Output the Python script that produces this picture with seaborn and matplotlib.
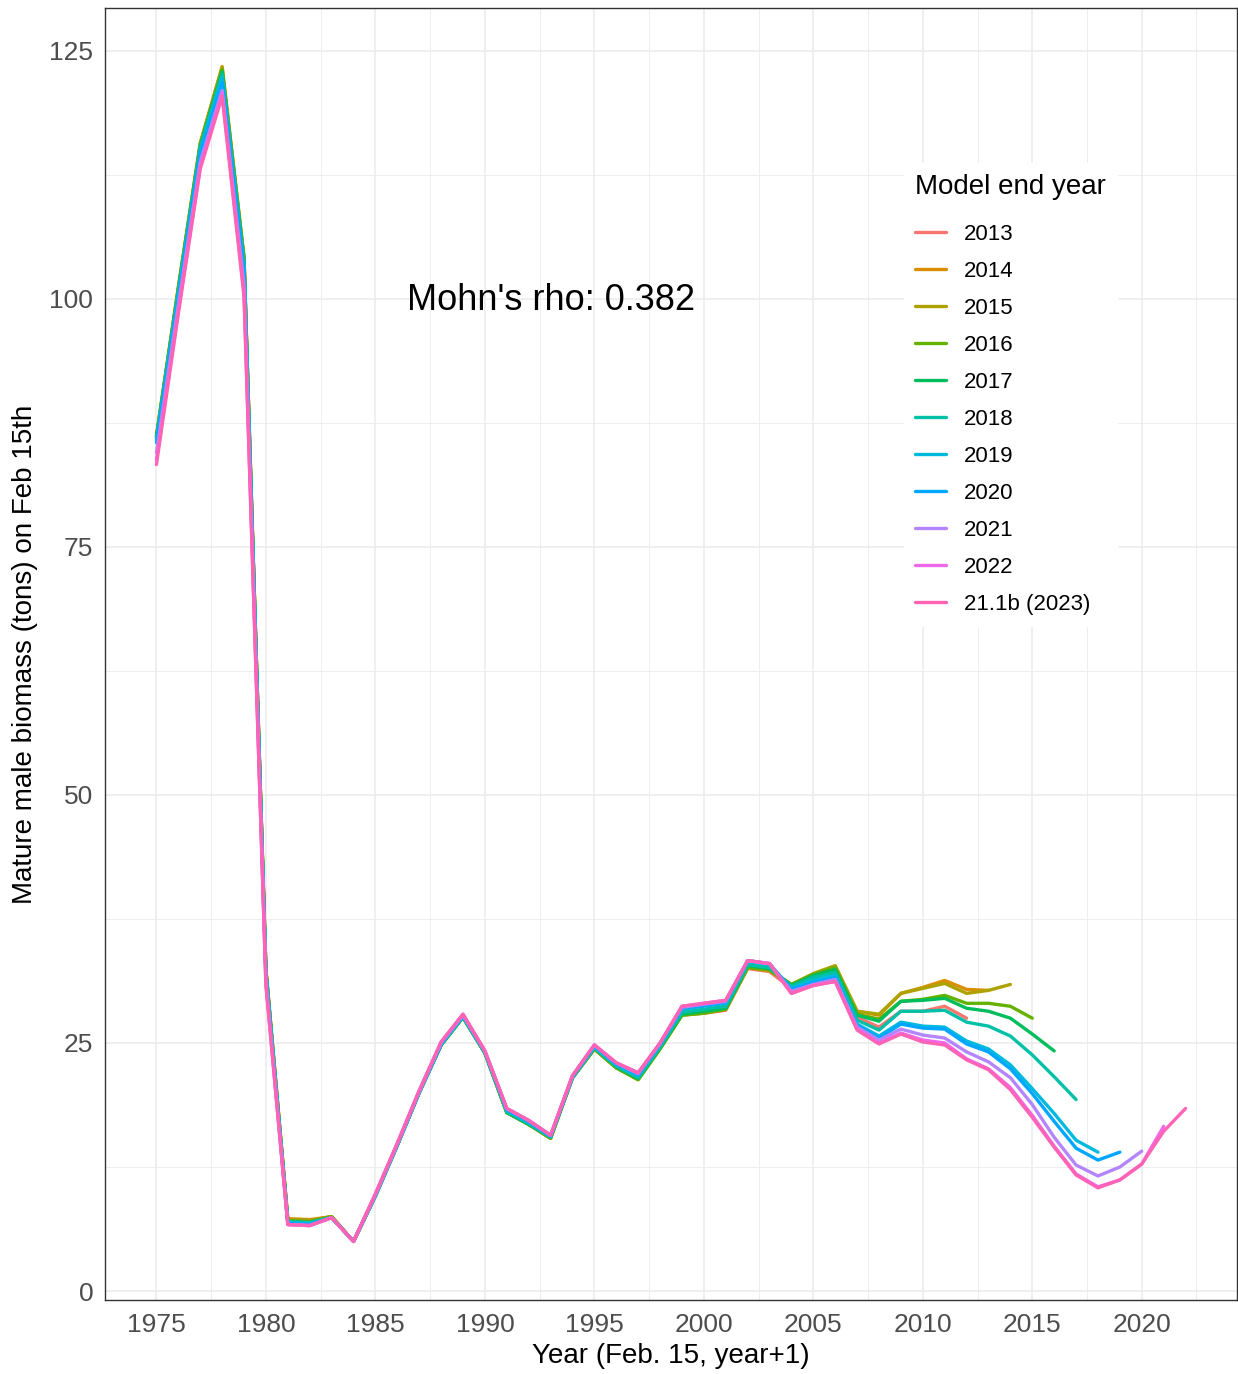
import numpy as np
import pandas as pd
import matplotlib
matplotlib.use("Agg")
import matplotlib.pyplot as plt
from matplotlib.ticker import MultipleLocator
import seaborn as sns

# ---------------- data ----------------
model_labels = ["2013", "2014", "2015", "2016", "2017", "2018",
                "2019", "2020", "2021", "2022", "21.1b (2023)"]
colors = ["#F8766D", "#DB8E00", "#AEA200", "#64B200", "#00BD5C", "#00C1A7",
          "#00BADE", "#00A6FF", "#B385FF", "#EF67EB", "#FF63B6"]
start_year = 1975

m2013 = [86.0, 101.0, 115.5, 123.0, 104.0, 32.3, 7.2, 7.1, 7.5, 5.0, 9.6, 14.7, 20.0, 24.8, 27.6, 24.0,
         18.0, 16.8, 15.4, 21.5, 24.4, 22.6, 21.5, 24.5, 27.9, 28.0, 28.3, 32.5, 32.2, 30.5, 31.6, 32.1,
         27.6, 26.6, 28.2, 28.2, 28.7, 27.5]
m2014 = [86.2, 101.2, 115.7, 123.4, 104.2, 32.4, 7.3, 7.2, 7.5, 5.0, 9.6, 14.7, 20.0, 24.8, 27.6, 24.0,
         18.0, 16.8, 15.4, 21.5, 24.4, 22.5, 21.4, 24.5, 27.9, 28.1, 28.4, 32.6, 32.3, 30.8, 31.9, 32.7,
         28.2, 27.8, 30.0, 30.6, 31.3, 30.4, 30.3]
m2015 = [86.2, 101.1, 115.6, 123.3, 104.1, 32.4, 7.2, 7.1, 7.5, 5.0, 9.6, 14.7, 20.0, 24.8, 27.6, 24.0,
         18.0, 16.8, 15.4, 21.5, 24.4, 22.5, 21.3, 24.4, 27.8, 28.0, 28.4, 32.6, 32.3, 30.9, 32.0, 32.8,
         28.2, 27.9, 30.0, 30.5, 31.0, 30.0, 30.3, 30.9]
m2016 = [86.1, 101.0, 115.5, 123.1, 104.0, 32.3, 7.1, 7.0, 7.5, 5.0, 9.6, 14.7, 20.0, 24.8, 27.6, 24.0,
         18.0, 16.8, 15.4, 21.5, 24.4, 22.5, 21.3, 24.4, 27.8, 28.0, 28.4, 32.6, 32.4, 30.9, 31.9, 32.6,
         27.9, 27.4, 29.2, 29.4, 29.8, 29.0, 29.0, 28.7, 27.5]
m2017 = [86.0, 100.9, 115.4, 122.9, 103.8, 32.2, 7.0, 6.9, 7.4, 5.0, 9.6, 14.7, 20.0, 24.8, 27.6, 24.0,
         18.0, 16.8, 15.5, 21.5, 24.5, 22.6, 21.4, 24.5, 27.9, 28.2, 28.5, 32.8, 32.5, 30.8, 31.8, 32.4,
         27.8, 27.2, 29.2, 29.3, 29.5, 28.5, 28.2, 27.5, 25.9, 24.2]
m2018 = [85.9, 100.7, 115.2, 122.6, 103.5, 32.1, 7.0, 6.9, 7.4, 5.0, 9.6, 14.7, 20.0, 24.8, 27.6, 24.0,
         18.1, 16.9, 15.5, 21.5, 24.5, 22.7, 21.5, 24.6, 28.1, 28.4, 28.7, 32.9, 32.6, 30.7, 31.6, 32.1,
         27.3, 26.3, 28.2, 28.2, 28.3, 27.1, 26.7, 25.7, 23.8, 21.6, 19.3]
m2019 = [85.7, 100.4, 114.9, 122.2, 103.1, 31.9, 6.9, 6.8, 7.4, 5.0, 9.6, 14.7, 20.0, 24.9, 27.7, 24.1,
         18.2, 17.0, 15.6, 21.6, 24.6, 22.8, 21.7, 24.8, 28.4, 28.7, 29.0, 33.2, 32.9, 30.5, 31.3, 31.8,
         26.9, 25.7, 27.1, 26.7, 26.6, 25.2, 24.4, 22.8, 20.4, 17.9, 15.2, 14.0]
m2020 = [85.5, 100.1, 114.6, 121.8, 102.7, 31.7, 6.8, 6.7, 7.4, 5.0, 9.7, 14.8, 20.1, 24.9, 27.8, 24.1,
         18.3, 17.1, 15.6, 21.6, 24.7, 22.9, 21.8, 24.9, 28.5, 28.8, 29.1, 33.3, 33.0, 30.4, 31.1, 31.6,
         26.8, 25.5, 26.9, 26.5, 26.4, 24.9, 24.1, 22.4, 19.9, 17.1, 14.4, 13.2, 14.0]
m2021 = [84.5, 99.4, 113.8, 121.0, 101.4, 31.2, 6.7, 6.6, 7.4, 5.0, 9.7, 14.8, 20.1, 25.0, 27.8, 24.2,
         18.4, 17.2, 15.7, 21.7, 24.8, 23.0, 21.9, 25.0, 28.6, 28.9, 29.2, 33.3, 33.0, 30.2, 30.9, 31.4,
         26.6, 25.3, 26.4, 25.8, 25.5, 24.1, 23.1, 21.5, 18.8, 15.5, 12.7, 11.6, 12.5, 14.1]
m2022 = [83.8, 98.8, 113.3, 120.7, 100.6, 30.9, 6.7, 6.6, 7.4, 5.0, 9.8, 14.9, 20.2, 25.1, 27.9, 24.2,
         18.4, 17.2, 15.7, 21.7, 24.8, 23.0, 22.0, 25.0, 28.7, 29.0, 29.3, 33.3, 33.0, 30.0, 30.8, 31.2,
         26.4, 25.0, 26.0, 25.3, 25.0, 23.4, 22.4, 20.5, 17.7, 14.6, 11.8, 10.5, 11.2, 12.8, 16.6]
m2023 = [83.3, 98.5, 113.1, 120.4, 100.2, 30.8, 6.7, 6.6, 7.4, 5.0, 9.8, 14.9, 20.2, 25.1, 27.9, 24.2,
         18.4, 17.2, 15.7, 21.7, 24.8, 23.0, 22.0, 25.0, 28.7, 29.0, 29.3, 33.3, 33.0, 30.0, 30.8, 31.2,
         26.3, 24.9, 25.9, 25.1, 24.8, 23.3, 22.3, 20.3, 17.5, 14.5, 11.7, 10.4, 11.2, 12.8, 16.1, 18.4]

series = [m2013, m2014, m2015, m2016, m2017, m2018, m2019, m2020, m2021, m2022, m2023]
mohn_text = "Mohn's rho: 0.382"

rows = []
for lab, vals in zip(model_labels, series):
    for i, v in enumerate(vals):
        rows.append({"year": start_year + i, "biomass": v, "model": lab})
df = pd.DataFrame(rows)
df["model"] = pd.Categorical(df["model"], categories=model_labels, ordered=True)

# ---------------- plot ----------------
sns.set_theme(style="white")
plt.rcParams["font.family"] = ["Liberation Sans", "DejaVu Sans"]
plt.rcParams["text.color"] = "black"

fig = plt.figure(figsize=(12.38, 13.74), dpi=100)
ax = fig.add_axes([105 / 1238, 1 - 1300 / 1374, (1237 - 105) / 1238, (1300 - 8) / 1374])

sns.lineplot(data=df, x="year", y="biomass", hue="model", hue_order=model_labels,
             palette=colors, estimator=None, sort=False, linewidth=2.4, ax=ax)

ax.set_xlim(1972.65, 2024.35)
ax.set_ylim(-0.9, 129.3)
ax.xaxis.set_major_locator(MultipleLocator(5))
ax.xaxis.set_minor_locator(MultipleLocator(2.5))
ax.yaxis.set_major_locator(MultipleLocator(25))
ax.yaxis.set_minor_locator(MultipleLocator(12.5))
ax.grid(which="major", color="#EBEBEB", linewidth=1.1)
ax.grid(which="minor", color="#EBEBEB", linewidth=0.6)
ax.set_axisbelow(True)
for s in ax.spines.values():
    s.set_color("#333333")
    s.set_linewidth(1.0)
ax.tick_params(axis="both", which="major", direction="out", length=4.5, width=1.0,
               color="#333333", labelcolor="#4D4D4D", labelsize=19)
ax.tick_params(axis="x", pad=4.5)
ax.tick_params(axis="y", pad=4)
ax.tick_params(which="minor", length=0)

ax.set_xlabel("Year (Feb. 15, year+1)", fontsize=20, color="black", labelpad=5)
ax.set_ylabel("Mature male biomass (tons) on Feb 15th", fontsize=20, color="black", labelpad=8)

ax.text(1993.0, 99.8, mohn_text, fontsize=26, color="black", ha="center", va="center")

leg = ax.legend(title="Model end year", loc="upper left",
                bbox_to_anchor=(904 / 1238, 1 - 163 / 1374), bbox_transform=fig.transFigure,
                frameon=True, fontsize=16, title_fontsize=20, handlelength=1.4,
                handletextpad=0.8, labelspacing=0.72, borderpad=0.5, borderaxespad=0)
leg.get_frame().set_facecolor("white")
leg.get_frame().set_edgecolor("white")
leg.get_frame().set_alpha(1.0)
leg._legend_box.align = "left"
leg._legend_box.sep = 17.0
leg.get_title().set_color("black")
for t in leg.get_texts():
    t.set_color("black")
for line in leg.get_lines():
    line.set_linewidth(2.4)

fig.savefig("out.png", dpi=100)
